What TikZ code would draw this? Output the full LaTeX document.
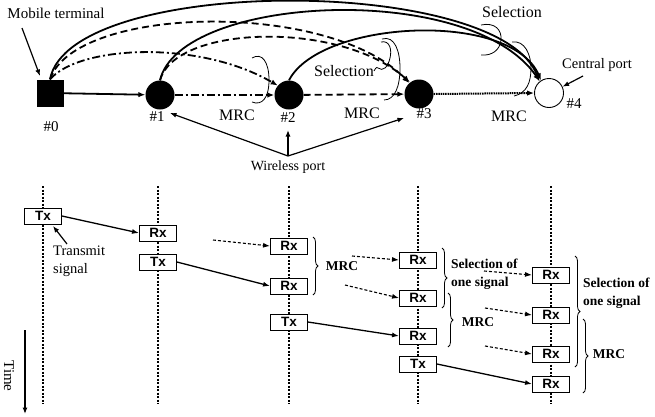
\documentclass[tikz,border=0pt]{standalone}
\usepackage{fontspec}
\setmainfont{Liberation Serif}
\newfontfamily\boxfont{Liberation Sans}
\usetikzlibrary{arrows.meta,decorations.pathreplacing}
\begin{document}
\begin{tikzpicture}[x=1pt,y=-1pt,
  tip/.style={-{Latex[length=7pt,width=5.5pt]}},
  link/.style={line width=1.8pt,tip},
  dashlink/.style={link,dash pattern=on 7pt off 4pt},
  dashdotlink/.style={link,dash pattern=on 8pt off 3pt on 2pt off 3pt},
  dotlink/.style={link,line width=2pt,dash pattern=on 1.5pt off 0.8pt},
  port/.style={circle,fill=black,minimum size=29pt,inner sep=0pt},
  lbl/.style={inner sep=0pt,font=\fontsize{15}{17}\selectfont},
  biglbl/.style={inner sep=0pt,font=\fontsize{16}{18}\selectfont},
  pointer/.style={line width=1.2pt,-{Latex[length=6.5pt,width=5pt]}},
  loopmark/.style={line width=0.8pt},
  timeline/.style={line width=1.3pt,dash pattern=on 2pt off 1.5pt},
  txrx/.style={draw,line width=0.9pt,fill=white,minimum width=37pt,minimum height=16pt,inner sep=0pt,font=\boxfont\bfseries\fontsize{13.5}{14}\selectfont},
  sig/.style={line width=1.3pt,-{Latex[length=7pt,width=5pt]}},
  dsig/.style={sig,line width=1.1pt,dash pattern=on 3pt off 2pt},
  brc/.style={decorate,decoration={brace,amplitude=5pt},line width=0.8pt},
  blbl/.style={inner sep=0pt,align=left,font=\bfseries\fontsize{13.5}{18.5}\selectfont}
]
\useasboundingbox (0,0) rectangle (655,416);

% ---------- ports ----------
\node[rectangle,fill=black,minimum size=27pt,inner sep=0pt] (p0) at (50,93) {};
\node[port] (p1) at (160,95) {};
\node[port] (p2) at (289,95) {};
\node[port] (p3) at (419,94) {};
\node[port,fill=white,draw,line width=0.9pt] (p4) at (549,93) {};

% neighbour links
\draw[link] (p0) -- (p1);
\draw[dashdotlink] (p1) -- (p2);
\draw[dashlink] (p2) -- (p3);
\draw[dotlink] (p3.east) -- (p4.west);

% long-range links
\draw[link] (p0.north) .. controls (70,-25) and (500,-25) .. (p4.130);
\draw[link] (p1.north) .. controls (180,-5) and (470,-20) .. (p4.128);
\draw[link] (p2.north) .. controls (320,20) and (510,10) .. (p4.122);
\draw[dashlink] (p0.north) .. controls (75,5) and (330,0) .. (p3.132);
\draw[dashlink] (p1.north) .. controls (175,25) and (340,20) .. (p3.128);
\draw[dashdotlink] (p0.north) .. controls (80,45) and (200,40) .. (p2.140);

% combining marks
\draw[loopmark] (252,58) .. controls (262,52) and (269,62) .. (269,80)
                         .. controls (269,98) and (262,106) .. (252,102);
\draw[loopmark] (382,39) .. controls (395,35) and (400,52) .. (400,68)
                         .. controls (400,86) and (395,100) .. (384,100);
\draw[loopmark] (481,25) .. controls (495,22) and (502,30) .. (501,40)
                         .. controls (500,50) and (492,56) .. (481,55);
\draw[loopmark] (512,42) .. controls (525,40) and (531,55) .. (531,68)
                         .. controls (531,82) and (527,93) .. (514,96);

% ---------- labels ----------
\node[lbl] (mt) at (56,13) {Mobile terminal};
\coordinate (mtA) at (22,28);
\coordinate (mtB) at (40,76);
\draw[pointer] (mtA) -- (mtB);

\node[lbl] (n0) at (51,127) {\#0};
\node[lbl] (n1) at (157,117) {\#1};
\node[lbl] (n2) at (288,118) {\#2};
\node[lbl] (n3) at (424,114) {\#3};
\node[lbl] (n4) at (574,104) {\#4};

\node[biglbl] (m1) at (237,115) {MRC};
\node[biglbl] (m2) at (362,113) {MRC};
\node[biglbl] (m3) at (509,116) {MRC};
\node[biglbl] (s1) at (344,71) {Selection};
\node[biglbl] (s2) at (512,12) {Selection};

% selection mark tied to its label
\draw[loopmark] (381,42) .. controls (390,40) and (392,50) .. (390,58)
                         .. controls (388,67) and (383,72) .. (378,68)
                         .. controls (376,66) and (375,70) .. (s1.east);

\node[inner sep=0pt,font=\fontsize{14.5}{17}\selectfont] (cp) at (597,65) {Central port};
\coordinate (cpA) at (583,76);
\draw[pointer] (cpA) -- (p4.25);

\node[inner sep=0pt,font=\fontsize{14}{16}\selectfont] (wp) at (288,167) {Wireless port};
\coordinate (wpA) at (288,156);
\coordinate (wp1) at (170,113);
\coordinate (wp2) at (288,130);
\coordinate (wp3) at (404,118);
\draw[pointer] (wpA) -- (wp1);
\draw[pointer] (wpA) -- (wp2);
\draw[pointer] (wpA) -- (wp3);

% ---------- timing chart ----------
\foreach \x in {43,158,289,418,551}
  \draw[timeline] (\x,186) -- (\x,404);

\node[txrx] (t0) at (43,216) {Tx};
\node[txrx] (r1a) at (158,233) {Rx};
\node[txrx] (t1) at (158,262) {Tx};
\node[txrx] (r2a) at (289,246) {Rx};
\node[txrx] (r2b) at (289,286) {Rx};
\node[txrx] (t2) at (289,322) {Tx};
\node[txrx] (r3a) at (418,260) {Rx};
\node[txrx] (r3b) at (418,298) {Rx};
\node[txrx] (r3c) at (418,336) {Rx};
\node[txrx] (t3) at (418,364) {Tx};
\node[txrx] (r4a) at (551,275) {Rx};
\node[txrx] (r4b) at (551,315) {Rx};
\node[txrx] (r4c) at (551,354) {Rx};
\node[txrx] (r4d) at (551,384) {Rx};

\draw[sig] (t0.east) -- (r1a.west);
\draw[sig] (t1.east) -- (r2b.west);
\draw[sig] (t2.east) -- (r3c.west);
\draw[sig] (t3.east) -- (r4d.west);

\coordinate (d2a) at (213,240);
\coordinate (d3a) at (352,256);
\coordinate (d3b) at (345,285);
\coordinate (d4a) at (484,271);
\coordinate (d4b) at (485,308);
\coordinate (d4c) at (485,346);
\draw[dsig] (d2a) -- (r2a.west);
\draw[dsig] (d3a) -- (r3a.west);
\draw[dsig] (d3b) -- (r3b.west);
\draw[dsig] (d4a) -- (r4a.west);
\draw[dsig] (d4b) -- (r4b.west);
\draw[dsig] (d4c) -- (r4c.west);

\node[align=left,inner sep=0pt,anchor=north west,font=\fontsize{14.5}{18}\selectfont] (ts) at (53,246) {Transmit\\signal};
\coordinate (tsA) at (67,244);
\coordinate (tsB) at (53,226);
\draw[pointer] (tsA) -- (tsB);

% combining braces
\draw[brc] (313,237) -- (313,295);
\node[blbl] (b1) at (342,266) {MRC};
\draw[brc] (442,248) -- (442,308);
\node[blbl,anchor=west] (b2) at (451,274) {Selection of\\one signal};
\draw[brc] (448,293) -- (448,347);
\node[blbl] (b3) at (478,322) {MRC};
\draw[brc] (575,256) -- (575,367);
\node[blbl,anchor=west] (b4) at (583,293) {Selection of\\one signal};
\draw[brc] (583,319) -- (583,393);
\node[blbl] (b5) at (609,354) {MRC};

% time axis
\coordinate (tA) at (25,330);
\coordinate (tB) at (25,414);
\draw[pointer] (tA) -- (tB);
\node[lbl,rotate=-90] (tm) at (9,376) {Time};
\end{tikzpicture}
\end{document}
